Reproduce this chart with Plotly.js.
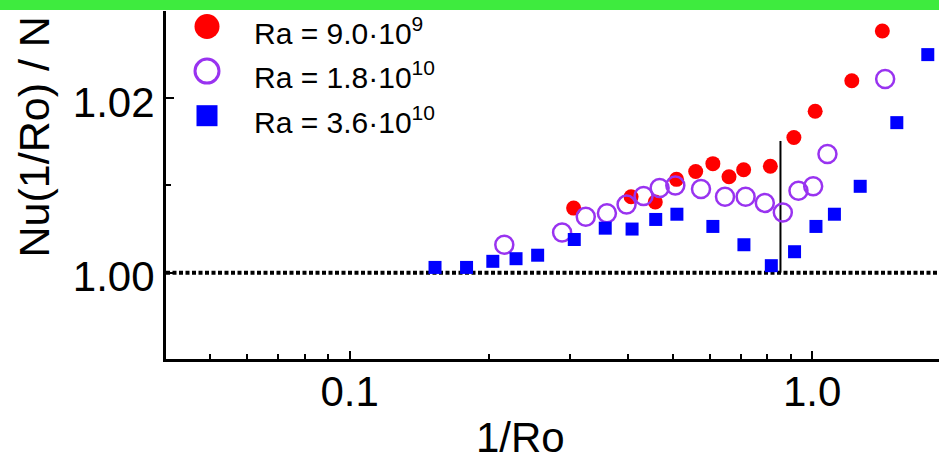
<!DOCTYPE html>
<html>
<head>
<meta charset="utf-8">
<script src="https://cdn.plot.ly/plotly-3.0.1.min.js"></script>
<style>
  html, body { margin: 0; padding: 0; background: #ffffff; }
  #chart { width: 939px; height: 456px; }
</style>
</head>
<body>
<div id="chart"></div>
<script>
// Normalised Nusselt number vs inverse Rossby number, three Rayleigh numbers.
const seriesNames = ['Ra = 9.0·10<sup>9</sup>', 'Ra = 1.8·10<sup>10</sup>', 'Ra = 3.6·10<sup>10</sup>'];

const invRo_ra9e9 = [0.305, 0.406, 0.458, 0.509, 0.560, 0.610, 0.661, 0.711, 0.812, 0.913, 1.015, 1.218, 1.418];
const nu_ra9e9    = [1.0074, 1.0087, 1.0081, 1.0107, 1.0116, 1.0125, 1.0110, 1.0118, 1.0122, 1.0155, 1.0185, 1.0220, 1.0277];

const invRo_ra18e9 = [0.216, 0.288, 0.324, 0.360, 0.397, 0.432, 0.468, 0.506, 0.575, 0.648, 0.718, 0.790, 0.864, 0.934, 1.005, 1.079, 1.438];
const nu_ra18e9    = [1.0032, 1.0046, 1.0064, 1.0068, 1.0078, 1.0088, 1.0097, 1.0100, 1.0096, 1.0087, 1.0087, 1.0080, 1.0069, 1.0094, 1.0099, 1.0136, 1.0222];

const invRo_ra36e9 = [0.153, 0.179, 0.204, 0.229, 0.255, 0.306, 0.357, 0.408, 0.459, 0.510, 0.610, 0.712, 0.816, 0.916, 1.019, 1.117, 1.270, 1.524, 1.778];
const nu_ra36e9    = [1.0006, 1.0006, 1.0013, 1.0016, 1.0020, 1.0038, 1.0051, 1.0050, 1.0061, 1.0067, 1.0053, 1.0032, 1.0008, 1.0024, 1.0053, 1.0067, 1.0099, 1.0172, 1.0250];

const xTickVals  = [0.1, 1];
const xTickText  = ['0.1', '1.0'];
const xMinorVals = [0.04, 0.05, 0.06, 0.07, 0.08, 0.09, 0.2, 0.3, 0.4, 0.5, 0.6, 0.7, 0.8, 0.9, 2];
const yTickVals  = [1.00, 1.02];
const yMinorVals = [0.99, 1.01, 1.03];

const baselineNu = 1.0;          // reference level Nu(1/Ro) = Nu(0)
const transitionInvRo = 0.854;   // marked transition
const transitionTop = 1.0151;

const FONT = 'Liberation Sans, Arial, sans-serif';
const RED = '#ff0000', PURPLE = '#9933f0', BLUE = '#0000ff';

const styles = [
  { symbol: 'circle',      color: RED,    size: 15, line: { width: 0 } },
  { symbol: 'circle-open', color: PURPLE, size: 18, line: { width: 2.5, color: PURPLE } },
  { symbol: 'square',      color: BLUE,   size: 13, line: { width: 0 } }
];
const xs = [invRo_ra9e9, invRo_ra18e9, invRo_ra36e9];
const ys = [nu_ra9e9, nu_ra18e9, nu_ra36e9];

const traces = xs.map((x, i) => ({
  type: 'scatter', mode: 'markers', x: x, y: ys[i], name: seriesNames[i],
  marker: styles[i], showlegend: false, cliponaxis: true
}));

// Key drawn on an overlay in pixel units of the plot area, with larger swatches.
const keyX = 207, keyTop = 26.5, keyStep = 44.6, keyTextX = 252;
const keySizes = [25, 24, 21];
seriesNames.forEach((n, i) => {
  traces.push({
    type: 'scatter', mode: 'markers', xaxis: 'x2', yaxis: 'y2',
    x: [keyX], y: [keyTop + keyStep * i], showlegend: false, hoverinfo: 'skip',
    marker: Object.assign({}, styles[i], { size: keySizes[i], line: Object.assign({}, styles[i].line, { width: i === 1 ? 3 : 0 }) })
  });
});

const annotations = seriesNames.map((n, i) => ({
  xref: 'x2', yref: 'y2', x: keyTextX, y: keyTop + 4 + keyStep * i,
  xanchor: 'left', yanchor: 'middle', showarrow: false, text: n,
  font: { family: FONT, size: 30, color: '#000' }
}));
annotations.push({
  xref: 'paper', yref: 'paper', x: -0.171, y: 0.639, xanchor: 'center', yanchor: 'middle',
  textangle: -90, showarrow: false, text: 'Nu(1/Ro) / N',
  font: { family: FONT, size: 43, color: '#000' }
});
annotations.push({
  xref: 'paper', yref: 'paper', x: 0.458, y: -0.226, xanchor: 'center', yanchor: 'middle',
  showarrow: false, text: '1/Ro',
  font: { family: FONT, size: 42, color: '#000' }
});

const layout = {
  width: 939, height: 456,
  margin: { l: 166, r: 0, t: 11, b: 97, pad: 0 },
  paper_bgcolor: '#ffffff', plot_bgcolor: '#ffffff',
  font: { family: FONT, size: 42, color: '#000' },
  showlegend: false,
  xaxis: {
    type: 'log', range: [Math.log10(0.0401), Math.log10(1.88)],
    showgrid: false, zeroline: false, showline: true, linecolor: '#000', linewidth: 3,
    ticks: 'inside', ticklen: 8, tickwidth: 2, tickcolor: '#000',
    tickmode: 'array', tickvals: xTickVals, ticktext: xTickText,
    tickfont: { family: FONT, size: 42 }, ticklabelstandoff: -6,
    minor: { tickmode: 'array', tickvals: xMinorVals, ticks: 'inside', ticklen: 5, tickwidth: 2, tickcolor: '#000', showgrid: false },
    mirror: false
  },
  yaxis: {
    range: [0.9901, 1.03],
    showgrid: false, zeroline: false, showline: true, linecolor: '#000', linewidth: 3,
    ticks: 'inside', ticklen: 8, tickwidth: 2, tickcolor: '#000',
    tickmode: 'array', tickvals: yTickVals, tickformat: '.2f',
    tickfont: { family: FONT, size: 42 }, ticklabelshift: 4,
    minor: { tickmode: 'array', tickvals: yMinorVals, ticks: 'inside', ticklen: 5, tickwidth: 2, tickcolor: '#000', showgrid: false }
  },
  xaxis2: { overlaying: 'x', range: [166, 939], visible: false, fixedrange: true },
  yaxis2: { overlaying: 'y', range: [359, 11], visible: false, fixedrange: true },
  shapes: [
    { type: 'line', xref: 'paper', yref: 'y', x0: 0, x1: 1, y0: baselineNu, y1: baselineNu,
      line: { color: '#000', width: 4, dash: '4px,2.5px' }, layer: 'below' },
    { type: 'line', xref: 'x', yref: 'y', x0: transitionInvRo, x1: transitionInvRo, y0: baselineNu, y1: transitionTop,
      line: { color: '#000', width: 2 }, layer: 'below' },
    { type: 'rect', xref: 'paper', yref: 'paper', x0: -0.3, x1: 1.05, y0: 1.0029, y1: 1.1,
      fillcolor: '#3eeb3e', line: { width: 0 }, layer: 'above' }
  ],
  annotations: annotations
};

Plotly.newPlot('chart', traces, layout, { staticPlot: true, displayModeBar: false });
</script>
</body>
</html>
